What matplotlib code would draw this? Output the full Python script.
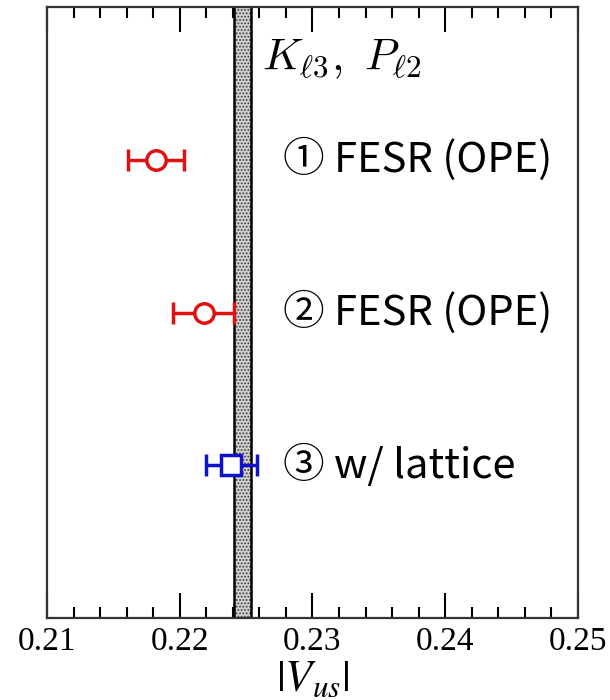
import matplotlib
matplotlib.use("Agg")
import matplotlib.pyplot as plt
from matplotlib.ticker import MultipleLocator

plt.rcParams['mathtext.fontset'] = 'stix'

# |V_us| determinations (central value, symmetric error)
labels = ["① FESR (OPE)", "② FESR (OPE)", "③ w/ lattice"]
values = [0.2182, 0.2218, 0.2239]
errors = [0.0021, 0.0023, 0.0019]
rows = [3, 2, 1]
colors = ["#dd1111", "#dd1111", "#1111cc"]
markers = ["o", "o", "s"]

# K_l3, P_l2 band
band_lo, band_hi = 0.2241, 0.2254

plt.rcParams['hatch.linewidth'] = 0.9

fig = plt.figure(figsize=(6.1, 7.0), dpi=100)
ax = fig.add_axes([0.077, 0.117, 0.8705, 0.873])

ax.axvspan(band_lo, band_hi, facecolor="#d2d2d2", edgecolor="#404040",
           hatch=".....", linewidth=0, zorder=1)
for xb in (band_lo, band_hi):
    ax.axvline(xb, color="black", lw=1.8, zorder=2)

for y, v, e, c, m, lab in zip(rows, values, errors, colors, markers, labels):
    ax.errorbar(v, y, xerr=e, fmt=m, color=c, mfc="white", mec=c,
                ms=14, mew=2.5, elinewidth=2.5, capsize=8, capthick=2.5,
                zorder=3)
    ax.text(0.2278, y, lab, fontsize=30, va="center", ha="left",
            family=["Noto Sans CJK KR", "DejaVu Sans"])

ax.text(0.2262, 3.66, r"$K_{\ell3},\ P_{\ell2}$", fontsize=32,
        va="center", ha="left", math_fontfamily="cm")

ax.set_xlim(0.21, 0.25)
ax.set_ylim(0, 4)
ax.xaxis.set_major_locator(MultipleLocator(0.01))
ax.xaxis.set_minor_locator(MultipleLocator(0.002))
ax.xaxis.set_major_formatter(plt.FuncFormatter(lambda x, p: f"{x:.2f}"))
ax.tick_params(axis="x", which="major", direction="in", length=18, width=1.5,
               top=True, labelsize=24, pad=6)
ax.tick_params(axis="x", which="minor", direction="in", length=8, width=1.5,
               top=True)
ax.tick_params(axis="y", left=False, labelleft=False)
for lbl in ax.get_xticklabels():
    lbl.set_family("Liberation Serif")
for s in ax.spines.values():
    s.set_linewidth(1.6)
    s.set_color("#333333")

ax.set_xlabel(r"$|V_{us}|$", fontsize=32, labelpad=0)

fig.savefig("out.png", dpi=100)
